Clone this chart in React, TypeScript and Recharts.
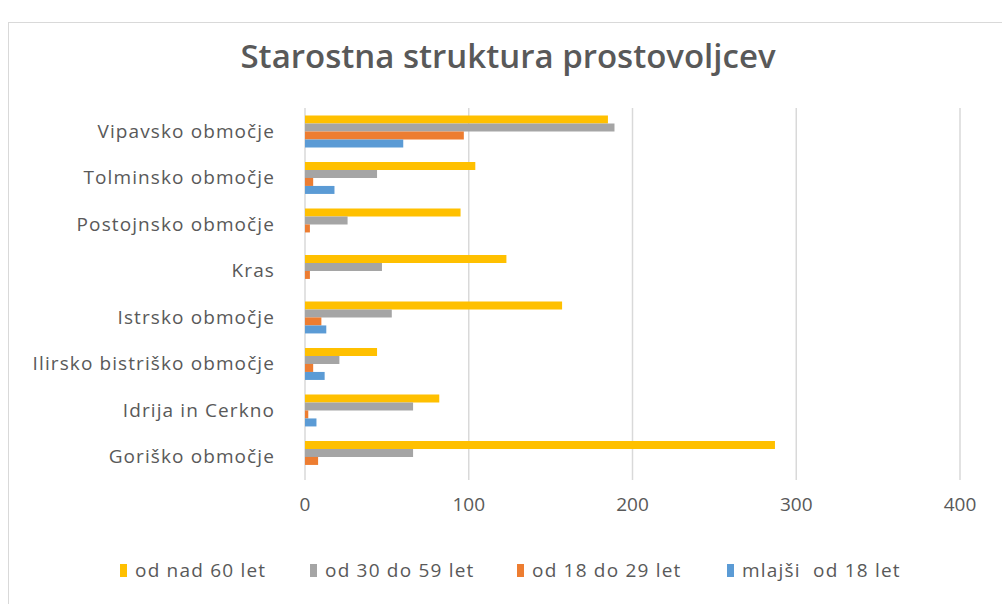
import { Bar, BarChart, CartesianGrid, XAxis, YAxis } from "recharts";

const regions = [
  "Vipavsko območje",
  "Tolminsko območje",
  "Postojnsko območje",
  "Kras",
  "Istrsko območje",
  "Ilirsko bistriško območje",
  "Idrija in Cerkno",
  "Goriško območje",
];
const over60 = [185, 104, 95, 123, 157, 44, 82, 287];
const from30to59 = [189, 44, 26, 47, 53, 21, 66, 66];
const from18to29 = [97, 5, 3, 3, 10, 5, 2, 8];
const under18 = [60, 18, 0, 0, 13, 12, 7, 0];
const xTicks = [0, 100, 200, 300, 400];

const series = [
  { key: "over60", name: "od nad 60 let", color: "#FFC000" },
  { key: "from30to59", name: "od 30 do 59 let", color: "#A5A5A5" },
  { key: "from18to29", name: "od 18 do 29 let", color: "#ED7D31" },
  { key: "under18", name: "mlajši  od 18 let", color: "#5B9BD5" },
];

// legend item x positions
const legendLeft = [120, 310, 517, 727];

const data = regions.map((name, i) => ({
  name,
  over60: over60[i],
  from30to59: from30to59[i],
  from18to29: from18to29[i],
  under18: under18[i],
}));

const font = "'Open Sans', sans-serif";
const textColor = "#595959";

export default function App() {
  return (
    <div style={{ position: "relative", width: 1002, height: 604, background: "#fff", fontFamily: font }}>
      <style>{`body{margin:0}`}</style>
      <div
        style={{
          position: "absolute",
          left: 8,
          top: 22,
          right: 0,
          bottom: 0,
          borderLeft: "1px solid #d9d9d9",
          borderTop: "1px solid #d9d9d9",
        }}
      />
      <div
        style={{
          position: "absolute",
          top: 33,
          left: 0,
          width: 1016,
          textAlign: "center",
          fontSize: 33,
          fontWeight: 600,
          color: textColor,
        }}
      >
        Starostna struktura prostovoljcev
      </div>
      <div style={{ position: "absolute", left: 0, top: 0 }}>
        <BarChart
          width={1002}
          height={604}
          data={data}
          layout="vertical"
          margin={{ top: 108, right: 42, left: 0, bottom: 94 }}
          barCategoryGap="16%"
          barGap={0}
        >
          <CartesianGrid horizontal={false} stroke="#d9d9d9" strokeWidth={1.5} />
          <XAxis
            type="number"
            domain={[0, 400]}
            ticks={xTicks}
            height={30}
            axisLine={false}
            tickLine={false}
            tickMargin={12}
            tick={{ fill: textColor, fontSize: 19, fontFamily: font }}
          />
          <YAxis
            type="category"
            dataKey="name"
            width={305}
            axisLine={false}
            tickLine={false}
            tickMargin={24}
            interval={0}
            tick={{ fill: textColor, fontSize: 19, fontFamily: font, letterSpacing: 1.1 }}
          />
          {series.map((s) => (
            <Bar key={s.key} dataKey={s.key} name={s.name} fill={s.color} isAnimationActive={false} />
          ))}
        </BarChart>
      </div>
      {series.map((s, i) => (
        <div
          key={s.key}
          style={{
            position: "absolute",
            top: 558,
            left: legendLeft[i],
            height: 24,
            display: "flex",
            alignItems: "center",
            whiteSpace: "pre",
            fontSize: 19,
            letterSpacing: 1.2,
            color: textColor,
          }}
        >
          <span style={{ width: 7, height: 13, background: s.color, marginRight: 8, display: "inline-block" }} />
          {s.name}
        </div>
      ))}
    </div>
  );
}
